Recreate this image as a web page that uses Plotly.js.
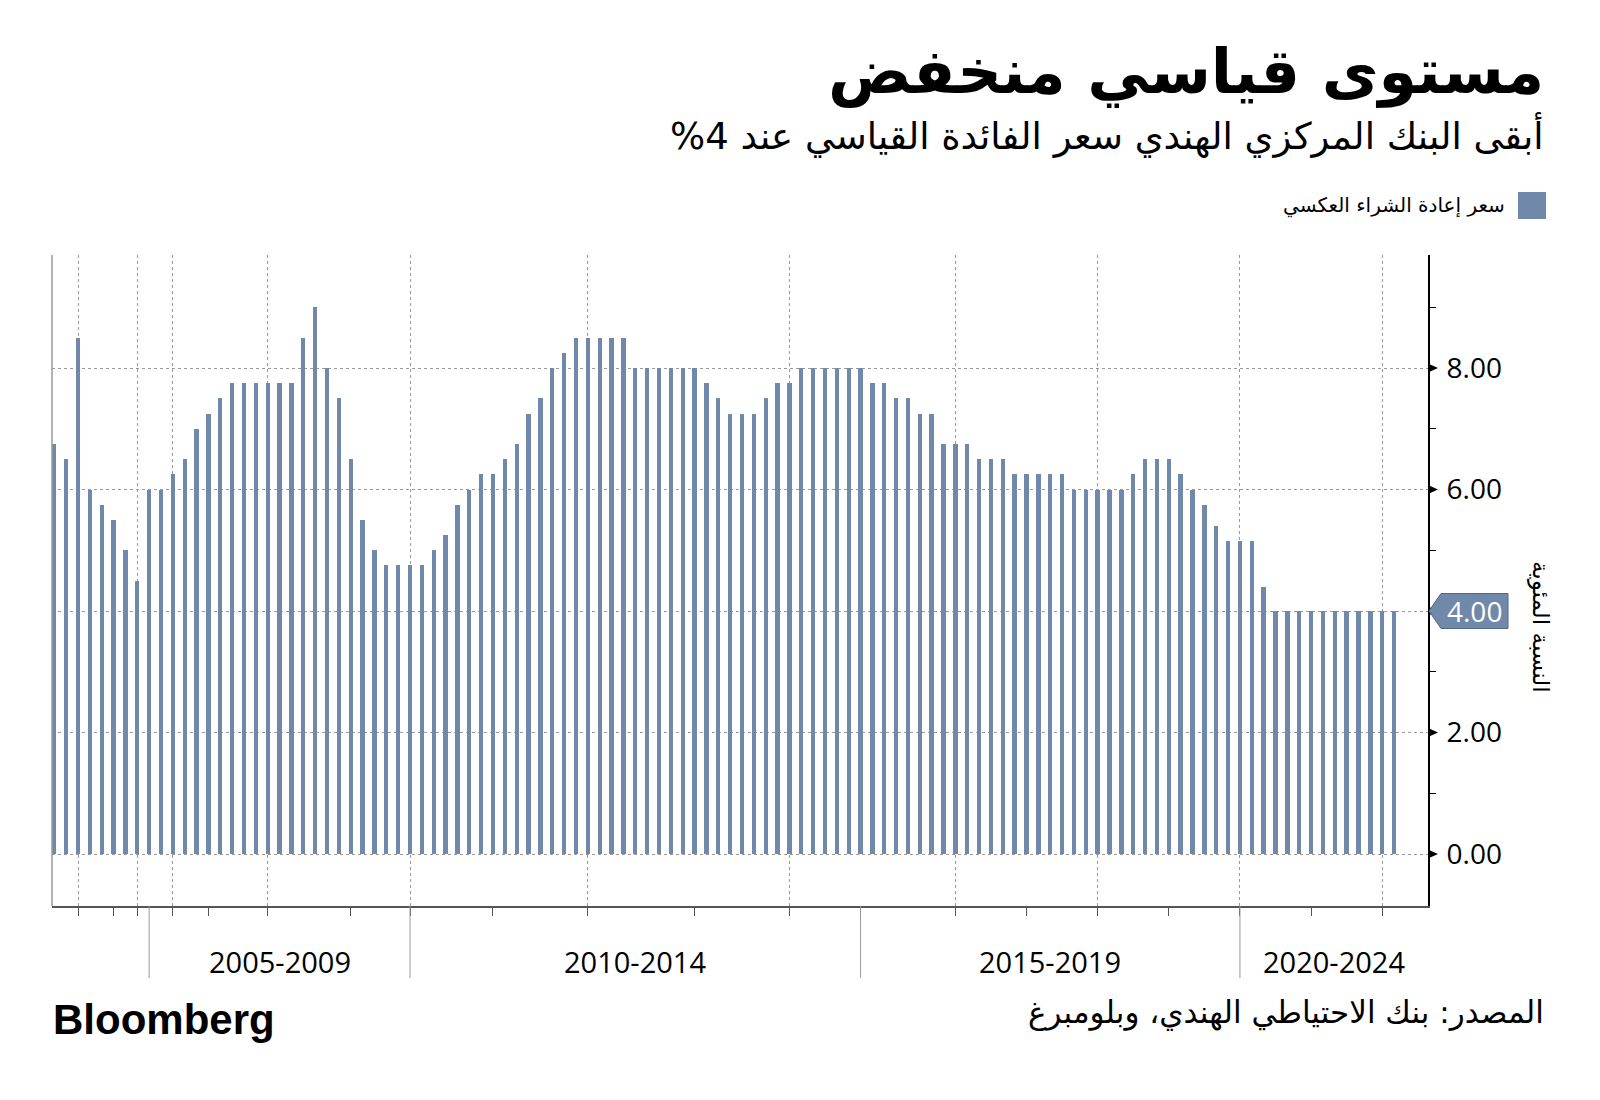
<!DOCTYPE html>
<html>
<head>
<meta charset="utf-8">
<script src="https://cdn.plot.ly/plotly-3.0.1.min.js"></script>
<style>
  html, body { margin: 0; padding: 0; background: #ffffff; }
  #chart { width: 1600px; height: 1100px; }
</style>
</head>
<body>
<div id="chart"></div>
<script>
// ---------- DATA ----------
const titleText = "مستوى قياسي منخفض";
const subtitleText = "أبقى البنك المركزي الهندي سعر الفائدة القياسي عند 4%";
const seriesName = "سعر إعادة الشراء العكسي";
const yAxisTitle = "النسبة المئوية";
const sourceText = "المصدر: بنك الاحتياطي الهندي، وبلومبرغ";
const brandText = "Bloomberg";

// Rate values (%), one bar per observation, oldest first
const rateValues = [
  6.75, 6.50, 8.50, 6.00, 5.75, 5.50, 5.00, 4.50, 6.00, 6.00,
  6.25, 6.50, 7.00, 7.25, 7.50, 7.75, 7.75, 7.75, 7.75, 7.75,
  7.75, 8.50, 9.00, 8.00, 7.50, 6.50, 5.50, 5.00, 4.75, 4.75,
  4.75, 4.75, 5.00, 5.25, 5.75, 6.00, 6.25, 6.25, 6.50, 6.75,
  7.25, 7.50, 8.00, 8.25, 8.50, 8.50, 8.50, 8.50, 8.50, 8.00,
  8.00, 8.00, 8.00, 8.00, 8.00, 7.75, 7.50, 7.25, 7.25, 7.25,
  7.50, 7.75, 7.75, 8.00, 8.00, 8.00, 8.00, 8.00, 8.00, 7.75,
  7.75, 7.50, 7.50, 7.25, 7.25, 6.75, 6.75, 6.75, 6.50, 6.50,
  6.50, 6.25, 6.25, 6.25, 6.25, 6.25, 6.00, 6.00, 6.00, 6.00,
  6.00, 6.25, 6.50, 6.50, 6.50, 6.25, 6.00, 5.75, 5.40, 5.15,
  5.15, 5.15, 4.40, 4.00, 4.00, 4.00, 4.00, 4.00, 4.00, 4.00,
  4.00, 4.00, 4.00, 4.00
];

// Period labels and the observation index where each period starts
const periodLabels = ["2005-2009", "2010-2014", "2015-2019", "2020-2024"];
const periodStarts = [8, 30, 68, 100];

// X tick positions (observation indices): year ticks with grid, half-year ticks
const xGridTicks = [2, 7, 10, 18, 30, 45, 62, 76, 88, 100, 112];
const xMinorTicks = [5, 13, 25, 37, 54, 68, 82, 94, 106];

// Y tick values
const yTickValues = [0, 2, 4, 6, 8];

// ---------- STYLE / LAYOUT ----------
const barColor = "#7089ab";
const W = 1600, H = 1100;
const L = 52, R = 1428, T = 255, B = 906;
const px = x => (x - L) / (R - L);   // pixel -> paper x
const py = y => (B - y) / (B - T);   // pixel -> paper y
const rtl = s => "\u200F" + s + "\u200F";

const xIdx = rateValues.map((_, i) => i);
const xRange = [-0.194, 115.86];
const yRange = [-0.856, 9.86];
const unitPx = (B - T) / (yRange[1] - yRange[0]);
const lastVal = rateValues[rateValues.length - 1];

const arabicFont = "DejaVu Sans, Noto Sans, sans-serif";
const numFont = "Open Sans, Noto Sans, sans-serif";

const trace = {
  type: "bar",
  x: xIdx,
  y: rateValues,
  width: 0.37,
  marker: { color: barColor, line: { width: 0 } },
  name: seriesName,
  showlegend: false,
  hoverinfo: "y"
};

const shapes = [];
// left frame line
shapes.push({ type: "line", xref: "paper", yref: "paper", x0: 0, x1: 0, y0: 0, y1: 1,
  line: { color: "#9a9a9a", width: 1.5 }, layer: "above" });
// period separators below the axis
periodStarts.forEach(s => shapes.push({
  type: "line", xref: "x", yref: "paper", x0: s, x1: s, y0: 0, y1: py(978),
  line: { color: "#9a9a9a", width: 1 }
}));
// triangle tick markers on right axis
const triW = 10 / (R - L), triH = 4.5 / unitPx;
yTickValues.forEach(v => shapes.push({
  type: "path", xref: "paper", yref: "y",
  path: `M 1,${v + triH} L ${1 + triW},${v} L 1,${v - triH} Z`,
  fillcolor: "#000", line: { width: 0 }, layer: "above"
}));
// last value callout
const cH = 17.5 / unitPx;
const cTip = px(1429), cShoulder = px(1441), cRight = px(1508);
shapes.push({
  type: "path", xref: "paper", yref: "y",
  path: `M ${cTip},${lastVal} L ${cShoulder},${lastVal + cH} L ${cRight},${lastVal + cH} L ${cRight},${lastVal - cH} L ${cShoulder},${lastVal - cH} Z`,
  fillcolor: barColor, line: { color: "#4f6684", width: 1 }, layer: "above"
});
// legend swatch
shapes.push({ type: "rect", xref: "paper", yref: "paper",
  x0: px(1518), x1: px(1546), y0: py(219), y1: py(192),
  fillcolor: barColor, line: { width: 0 } });

const annotations = [];
annotations.push({ text: "<b>" + rtl(titleText) + "</b>", xref: "paper", yref: "paper",
  x: px(1546), y: py(72), xanchor: "right", yanchor: "middle", showarrow: false,
  font: { family: arabicFont, size: 62, color: "#000" } });
annotations.push({ text: rtl(subtitleText), xref: "paper", yref: "paper",
  x: px(1546), y: py(135), xanchor: "right", yanchor: "middle", showarrow: false,
  font: { family: arabicFont, size: 37, color: "#000" } });
annotations.push({ text: rtl(seriesName), xref: "paper", yref: "paper",
  x: px(1507), y: py(205), xanchor: "right", yanchor: "middle", showarrow: false,
  font: { family: arabicFont, size: 20, color: "#000" } });
annotations.push({ text: rtl(sourceText), xref: "paper", yref: "paper",
  x: px(1546), y: py(1012), xanchor: "right", yanchor: "middle", showarrow: false,
  font: { family: arabicFont, size: 31, color: "#000" } });
annotations.push({ text: "<b>" + brandText + "</b>", xref: "paper", yref: "paper",
  x: px(51), y: py(1020), xanchor: "left", yanchor: "middle", showarrow: false,
  font: { family: "Liberation Sans, Arial, sans-serif", size: 42, color: "#000" } });
annotations.push({ text: rtl(yAxisTitle), xref: "paper", yref: "paper", textangle: 90,
  x: px(1541), y: py(627), xanchor: "center", yanchor: "middle", showarrow: false,
  font: { family: arabicFont, size: 23, color: "#000" } });
annotations.push({ text: lastVal.toFixed(2), xref: "paper", yref: "y",
  x: px(1474), y: lastVal, xanchor: "center", yanchor: "middle", showarrow: false,
  font: { family: numFont, size: 28, color: "#ffffff" } });
periodLabels.forEach((lab, i) => {
  const a = periodStarts[i];
  const b = i + 1 < periodStarts.length ? periodStarts[i + 1] : xRange[1];
  annotations.push({ text: lab, xref: "x", yref: "paper", x: (a + b) / 2, y: py(961),
    xanchor: "center", yanchor: "middle", showarrow: false,
    font: { family: numFont, size: 29, color: "#000" } });
});

const layout = {
  width: W, height: H,
  paper_bgcolor: "#ffffff", plot_bgcolor: "#ffffff",
  margin: { l: L, r: W - R, t: T, b: H - B, pad: 0 },
  showlegend: false,
  bargap: 0,
  xaxis: {
    range: xRange, tickmode: "array", tickvals: xGridTicks, ticktext: xGridTicks.map(() => ""),
    showgrid: true, gridcolor: "#9a9a9a", gridwidth: 1, griddash: "dot",
    ticks: "outside", ticklen: 8, tickcolor: "#555", tickwidth: 1,
    showline: true, linecolor: "#555", linewidth: 1.5, zeroline: false,
    minor: { tickmode: "array", tickvals: xMinorTicks, ticks: "outside", ticklen: 8,
      tickcolor: "#555", tickwidth: 1, showgrid: false },
    fixedrange: true
  },
  yaxis: {
    side: "right", range: yRange, tickmode: "array", tickvals: yTickValues,
    ticktext: yTickValues.map(v => v === lastVal ? "" : v.toFixed(2)),
    showgrid: true, gridcolor: "#9a9a9a", gridwidth: 1, griddash: "dot",
    ticks: "outside", ticklen: 11, tickcolor: "rgba(0,0,0,0)",
    showline: true, linecolor: "#000", linewidth: 2, zeroline: false,
    tickfont: { family: numFont, size: 28, color: "#000" },
    minor: { dtick: 1, tick0: 0, ticks: "outside", ticklen: 6, tickcolor: "#000", tickwidth: 1, showgrid: false },
    fixedrange: true
  },
  shapes: shapes,
  annotations: annotations
};

Plotly.newPlot("chart", [trace], layout, { displayModeBar: false, staticPlot: true });
</script>
</body>
</html>
